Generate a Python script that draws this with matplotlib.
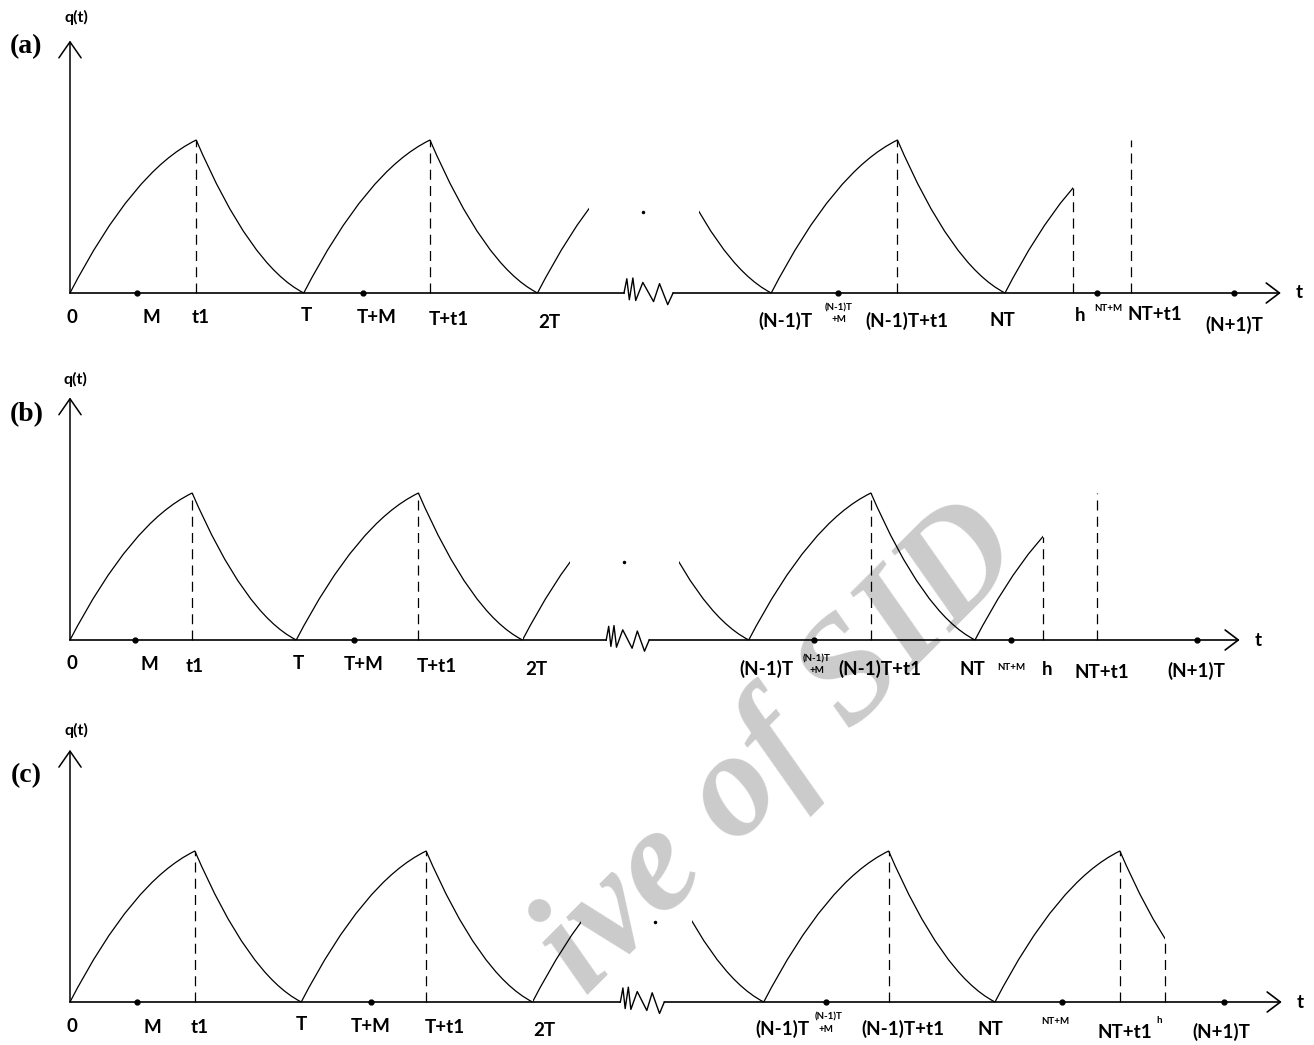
import matplotlib
matplotlib.use('Agg')
import matplotlib.pyplot as plt
from matplotlib.path import Path
from matplotlib.patches import PathPatch, Rectangle

plt.rcParams['font.family'] = ['Lato', 'DejaVu Sans']

# shape of one cycle (time in units of T, stock in units of the peak)
T1 = 0.54
PEAK = 1.0
RISE_BEND = 0.8
FALL_BEND = 0.18

# zigzag break on the time axis (fraction of its width, height)
ZIG_U = [0, 0.058, 0.109, 0.181, 0.239, 0.384, 0.602, 0.724, 0.891, 1.0]
ZIG_V = [0, 0.093, -0.044, 0.098, -0.049, 0.069, -0.056, 0.061, -0.076, 0]

# ---- panel (a)
A_LABELS = ['0', 'M', 't1', 'T', 'T+M', 'T+t1', '2T', '(N-1)T', '(N-1)T+t1', 'NT', 'h', 'NT+t1', '(N+1)T']
A_LABEL_X = [0.01, 0.35, 0.56, 1.01, 1.31, 1.62, 2.05, 3.06, 3.58, 3.99, 4.32, 4.64, 4.98]
A_LABEL_Y = [-0.16, -0.16, -0.16, -0.15, -0.16, -0.17, -0.19, -0.18, -0.18, -0.18, -0.15, -0.14, -0.21]
A_SMALL = ['(N-1)T', '+M', 'NT+M']
A_SMALL_X = [3.29, 3.29, 4.44]
A_SMALL_Y = [-0.10, -0.17, -0.10]
A_DOTS = [0.287, 1.253, 3.285, 4.394, 4.98]
A_H = 4.29
A_GAP = [2.22, 2.69]
A_ZIG = [2.37, 2.58]
A_GAP_DOT = [2.45, 0.53]
A_AXIS_END = 5.18
A_YTOP = 1.65

# ---- panel (b)
B_LABELS = ['0', 'M', 't1', 'T', 'T+M', 'T+t1', '2T', '(N-1)T', '(N-1)T+t1', 'NT', 'h', 'NT+t1', '(N+1)T']
B_LABEL_X = [0.01, 0.35, 0.55, 1.01, 1.30, 1.62, 2.06, 3.08, 3.58, 3.99, 4.32, 4.56, 4.98]
B_LABEL_Y = [-0.16, -0.17, -0.18, -0.16, -0.17, -0.18, -0.20, -0.20, -0.20, -0.20, -0.20, -0.22, -0.21]
B_SMALL = ['(N-1)T', '+M', 'NT+M']
B_SMALL_X = [3.30, 3.30, 4.16]
B_SMALL_Y = [-0.13, -0.21, -0.19]
B_DOTS = [0.287, 1.255, 3.29, 4.16, 4.98]
B_H = 4.30
B_GAP = [2.21, 2.69]
B_ZIG = [2.37, 2.56]
B_GAP_DOT = [2.45, 0.53]
B_AXIS_END = 5.17
B_YTOP = 1.65

# ---- panel (c)
C_LABELS = ['0', 'M', 't1', 'T', 'T+M', 'T+t1', '2T', '(N-1)T', '(N-1)T+t1', 'NT', 'NT+t1', '(N+1)T']
C_LABEL_X = [0.01, 0.355, 0.56, 1.00, 1.30, 1.62, 2.05, 3.08, 3.60, 3.98, 4.56, 4.98]
C_LABEL_Y = [-0.16, -0.17, -0.17, -0.15, -0.16, -0.17, -0.19, -0.18, -0.18, -0.18, -0.20, -0.20]
C_SMALL = ['(N-1)T', '+M', 'NT+M', 'h']
C_SMALL_X = [3.28, 3.27, 4.26, 4.71]
C_SMALL_Y = [-0.10, -0.18, -0.13, -0.12]
C_DOTS = [0.29, 1.30, 3.27, 4.29, 4.99]
C_H = 4.735
C_GAP = [2.21, 2.69]
C_ZIG = [2.38, 2.57]
C_GAP_DOT = [2.53, 0.53]
C_AXIS_END = 5.24
C_YTOP = 1.67

panels = [
    dict(tag='(a)', labels=A_LABELS, lx=A_LABEL_X, ly=A_LABEL_Y, small=A_SMALL, sx=A_SMALL_X, sy=A_SMALL_Y,
         dots=A_DOTS, h=A_H, gap=A_GAP, zig=A_ZIG, gdot=A_GAP_DOT, xend=A_AXIS_END, ytop=A_YTOP,
         band=(0, 350), axis_px=293, px=(233.75, 153), tag_xy=(-0.19, 1.61), q_y=1.80, t_x=5.26),
    dict(tag='(b)', labels=B_LABELS, lx=B_LABEL_X, ly=B_LABEL_Y, small=B_SMALL, sx=B_SMALL_X, sy=B_SMALL_Y,
         dots=B_DOTS, h=B_H, gap=B_GAP, zig=B_ZIG, gdot=B_GAP_DOT, xend=B_AXIS_END, ytop=B_YTOP,
         band=(350, 700), axis_px=640, px=(226.25, 147), tag_xy=(-0.19, 1.53), q_y=1.77, t_x=5.25),
    dict(tag='(c)', labels=C_LABELS, lx=C_LABEL_X, ly=C_LABEL_Y, small=C_SMALL, sx=C_SMALL_X, sy=C_SMALL_Y,
         dots=C_DOTS, h=C_H, gap=C_GAP, zig=C_ZIG, gdot=C_GAP_DOT, xend=C_AXIS_END, ytop=C_YTOP,
         band=(700, 1045), axis_px=1002, px=(231.25, 151), tag_xy=(-0.19, 1.50), q_y=1.80, t_x=5.32),
]

W, H = 1314, 1045
fig = plt.figure(figsize=(W / 100, H / 100), dpi=100)
fig.patch.set_facecolor('white')

# grey watermark behind the drawing (only its visible part)
fig.text(780 / W, 1 - 750 / H, 'ive of SID', fontsize=108, family='Liberation Serif',
         weight='bold', style='italic', color='#cbcbcb', rotation=45,
         ha='center', va='center', zorder=-1)


def cycle(ax, x0, clip=None):
    verts = [(x0, 0), (x0 + T1 / 2, RISE_BEND), (x0 + T1, PEAK),
             (x0 + T1 + (1 - T1) / 2, FALL_BEND), (x0 + 1, 0)]
    codes = [Path.MOVETO, Path.CURVE3, Path.CURVE3, Path.CURVE3, Path.CURVE3]
    p = PathPatch(Path(verts, codes), fill=False, lw=0.9, color='black')
    ax.add_patch(p)
    if clip is not None:
        r = Rectangle((clip[0], -1), clip[1] - clip[0], 4, transform=ax.transData)
        p.set_clip_path(r)


def height_at(x, x0):
    # where the dashed line at h meets the curve
    u = x - x0
    if u <= T1:
        s = u / T1
        return 2 * s * (1 - s) * RISE_BEND + s * s * PEAK
    s = (u - T1) / (1 - T1)
    return (1 - s) ** 2 * PEAK + 2 * s * (1 - s) * FALL_BEND


dash = dict(color='black', lw=0.9, ls=(0, (8, 5)))

for p in panels:
    top, bot = p['band']
    sxp, syp = p['px']
    ax = fig.add_axes([0, 1 - bot / H, 1, (bot - top) / H])
    ax.set_xlim(-70 / sxp, (W - 70) / sxp)
    ax.set_ylim(-(bot - p['axis_px']) / syp, (p['axis_px'] - top) / syp)
    ax.axis('off')
    ax.patch.set_alpha(0)

    # inventory cycles
    cycle(ax, 0)
    cycle(ax, 1)
    cycle(ax, 2, clip=(2, p['gap'][0]))
    cycle(ax, 2, clip=(p['gap'][1], 3))
    cycle(ax, 3)
    cycle(ax, 4, clip=(4, p['h']))

    # dashed guides at the peaks, NT+t1 and h
    for x0 in [0, 1, 3, 4]:
        ax.plot([x0 + T1, x0 + T1], [0, PEAK], **dash)
    ax.plot([p['h'], p['h']], [0, height_at(p['h'], 4)], **dash)

    # time axis with a break
    z0, z1 = p['zig']
    ax.plot([0, z0], [0, 0], color='black', lw=1.2)
    ax.plot([z0 + u * (z1 - z0) for u in ZIG_U], ZIG_V, color='black', lw=1.0)
    ax.annotate('', xy=(p['xend'], 0), xytext=(z1, 0),
                arrowprops=dict(arrowstyle='->,head_length=0.95,head_width=0.72',
                                lw=1.2, color='black', shrinkA=0, shrinkB=0, mutation_scale=10))
    ax.annotate('', xy=(0, p['ytop']), xytext=(0, 0),
                arrowprops=dict(arrowstyle='->,head_length=1.15,head_width=0.8',
                                lw=1.1, color='black', shrinkA=0, shrinkB=0, mutation_scale=10))

    # points on the axis
    ax.plot(p['dots'], [0] * len(p['dots']), 'o', color='black', ms=3.5)
    ax.plot([p['gdot'][0]], [p['gdot'][1]], 'o', color='black', ms=1.5)

    # labels
    for s, x, y in zip(p['labels'], p['lx'], p['ly']):
        ax.text(x, y, s, fontsize=13.5, weight='bold', ha='center', va='center')
    for s, x, y in zip(p['small'], p['sx'], p['sy']):
        ax.text(x, y, s, fontsize=7, weight='bold', ha='center', va='center')
    ax.text(p['t_x'], 0, 't', fontsize=13.5, weight='bold', ha='center', va='center')
    ax.text(0.026, p['q_y'], 'q(t)', fontsize=11.5, weight='bold', ha='center', va='center')
    ax.text(p['tag_xy'][0], p['tag_xy'][1], p['tag'], fontsize=20, weight='bold',
            family='Liberation Serif', ha='center', va='center')

fig.savefig('out.png', dpi=100, facecolor='white')
